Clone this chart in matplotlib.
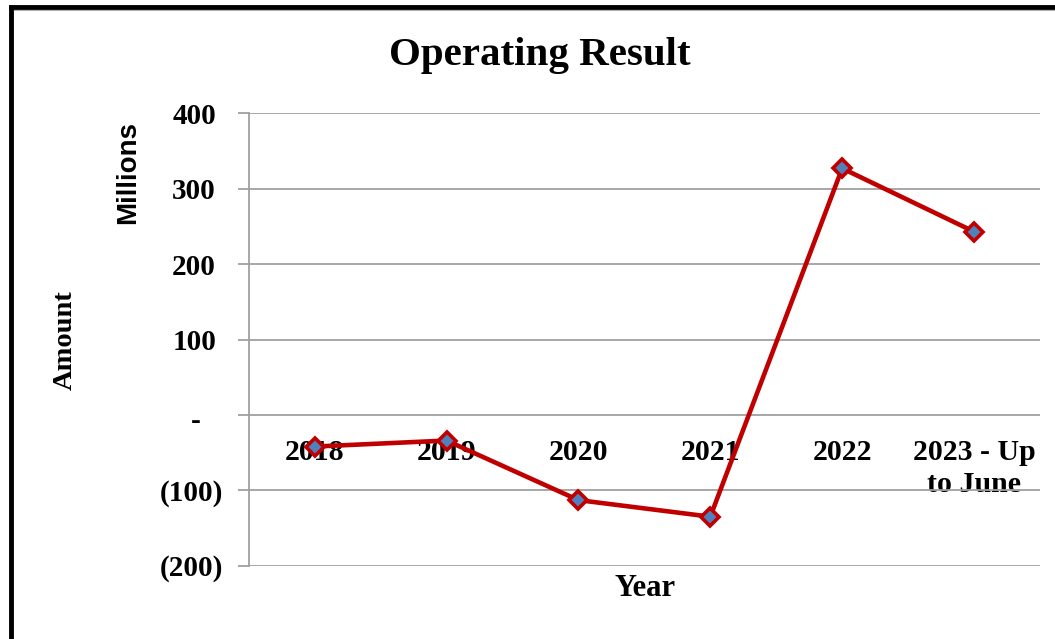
import matplotlib
matplotlib.use("Agg")
import matplotlib.pyplot as plt
from matplotlib.lines import Line2D
from matplotlib.transforms import ScaledTranslation
import numpy as np

categories = ["2018", "2019", "2020", "2021", "2022", "2023 - Up\nto June"]
values = [-42, -34, -113, -135, 327, 243]
yticks = [-200, -100, 0, 100, 200, 300, 400]

def fmt(v):
    if v < 0:
        return f"({abs(v)})"
    if v == 0:
        return "-"
    return f"{v}"

W, H = 1055, 639
fig = plt.figure(figsize=(W / 100, H / 100), dpi=100)
fig.patch.set_facecolor("white")

ax = fig.add_axes([248.7 / W, (H - 565.7) / H, (1040 - 248.7) / W, 452.4 / H])
ax.spines["bottom"].set_position(("data", 0))
ax.spines["bottom"].set_visible(False)
ax.spines["top"].set_visible(False)
ax.spines["right"].set_visible(False)
ax.spines["left"].set_color("#A0A0A0")
ax.spines["left"].set_linewidth(1.3)

x = np.arange(len(categories))
ax.plot(x, values, color="#C00000", lw=3.3, marker="D", markersize=9.5,
        markerfacecolor="#4F81BD", markeredgecolor="#C00000", markeredgewidth=2.6,
        zorder=3, clip_on=False)

ax.set_xlim(-0.5, len(categories) - 0.5)
ax.set_ylim(-200, 400)
ax.tick_params(axis="x", length=0, pad=17.5)
ax.tick_params(axis="y", length=8, width=1.3, color="#A0A0A0", pad=10.5)
ax.yaxis.grid(True, color="#A0A0A0", lw=1.3)
ax.set_axisbelow(True)

serif = "Liberation Serif"
ax.set_yticks(yticks)
ax.set_yticklabels([fmt(v) for v in yticks], fontfamily=serif, fontweight="bold", fontsize=21)
ax.set_xticks(x)
ax.set_xticklabels(categories, fontfamily=serif, fontweight="bold", fontsize=21.5,
                   linespacing=1.25, zorder=5)

for lab, v in zip(ax.get_yticklabels(), yticks):
    if v > 0:
        dx = -7
    elif v == 0:
        dx = -22
    else:
        dx = 0
    dy = -4 if v == 0 else 0
    lab.set_transform(lab.get_transform() + ScaledTranslation(dx / 100, dy / 100, fig.dpi_scale_trans))

fig.text(540 / W, 1 - 55 / H, "Operating Result", ha="center", va="center",
         fontfamily=serif, fontweight="bold", fontsize=29.5)
fig.text(645 / W, 1 - 588 / H, "Year", ha="center", va="center",
         fontfamily=serif, fontweight="bold", fontsize=22)
fig.text(65 / W, 1 - 340 / H, "Amount", ha="center", va="center", rotation=90,
         fontfamily=serif, fontweight="bold", fontsize=20.5)
fig.text(128 / W, 1 - 173 / H, "Millions", ha="center", va="center", rotation=90,
         fontfamily="Liberation Sans", fontweight="bold", fontsize=20)

# outer frame (black on left and top)
fig.add_artist(Line2D([11 / W, 11 / W], [0, 1 - 7 / H], color="black", lw=3.5,
                      transform=fig.transFigure, solid_capstyle="projecting"))
fig.add_artist(Line2D([11 / W, 1], [1 - 7 / H, 1 - 7 / H], color="black", lw=3.5,
                      transform=fig.transFigure, solid_capstyle="projecting"))
fig.add_artist(Line2D([14 / W, 1], [1 - 9.5 / H, 1 - 9.5 / H], color="#B0B0B0", lw=0.8,
                      transform=fig.transFigure))

fig.savefig("out.png", dpi=100)
